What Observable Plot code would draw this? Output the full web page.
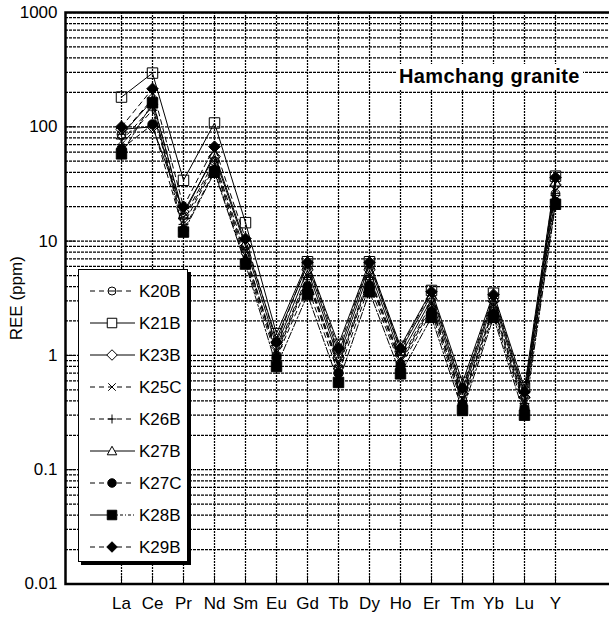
<!DOCTYPE html>
<html><head><meta charset="utf-8">
<script src="https://cdn.jsdelivr.net/npm/d3@7"></script>
<script src="https://cdn.jsdelivr.net/npm/@observablehq/plot@0.6"></script>
<style>
html,body{margin:0;padding:0;background:#fff;overflow:hidden}
#wrap{position:relative;width:609px;height:624px;font-family:"Liberation Sans",Arial,sans-serif}
#title{position:absolute;left:396px;top:64px;background:#fff;font-weight:bold;font-size:20px;letter-spacing:0.4px;padding:0 3px;line-height:25px;white-space:nowrap}
#legend{position:absolute;left:78px;top:269px;width:108px;height:291px;border:1px solid #000;background:#fff;box-shadow:3px 3px 0 #000}
#legend svg{position:absolute;left:0;top:0}
</style></head>
<body><div id="wrap"></div>
<script>
// ---- data ----
const elements = ["La","Ce","Pr","Nd","Sm","Eu","Gd","Tb","Dy","Ho","Er","Tm","Yb","Lu","Y"];
const yTicks = [0.01, 0.1, 1, 10, 100, 1000];
const yTickLabels = ["0.01", "0.1", "1", "10", "100", "1000"];

const K20B = [86, 175, 16, 50, 8.0, 1.0, 4.6, 0.78, 4.6, 0.85, 2.6, 0.40, 2.5, 0.36, 26];
const K21B = [182, 295, 34, 108, 14.5, 1.55, 6.6, 1.25, 6.6, 1.2, 3.7, 0.58, 3.5, 0.52, 37];
const K23B = [95, 100, 18, 55, 9.0, 1.2, 5.6, 0.95, 5.6, 1.0, 3.1, 0.46, 3.0, 0.43, 31];
const K25C = [75, 150, 15, 47, 7.5, 1.1, 5.0, 0.85, 5.0, 0.92, 2.85, 0.42, 2.7, 0.40, 28];
const K26B = [70, 140, 14, 45, 7.0, 1.05, 4.8, 0.82, 4.8, 0.88, 2.7, 0.40, 2.6, 0.38, 25];
const K27B = [85, 170, 17, 58, 9.5, 1.4, 6.2, 1.05, 6.2, 1.1, 3.4, 0.50, 3.2, 0.46, 33];
const K27C = [64, 105, 12.5, 41, 6.6, 0.95, 4.0, 0.70, 4.1, 0.80, 2.4, 0.37, 2.3, 0.34, 22];
const K28B = [58, 162, 12, 40, 6.3, 0.80, 3.4, 0.58, 3.6, 0.69, 2.15, 0.33, 2.15, 0.30, 21];
const K29B = [100, 215, 20, 67, 10.5, 1.3, 6.5, 1.15, 6.5, 1.15, 3.6, 0.52, 3.4, 0.48, 36];

const sampleNames = ["K20B","K21B","K23B","K25C","K26B","K27B","K27C","K28B","K29B"];
const sampleValues = [K20B, K21B, K23B, K25C, K26B, K27B, K27C, K28B, K29B];
const sampleDash = ["5,4", null, null, "5,4", "5,4", null, "5,4", "7,2,2,2", "5,4"];
const sampleMarker = ["circleBar","square","diamond","times","plus","triangle","circle","square","diamond"];
const sampleFilled = [false, false, false, false, false, false, true, true, true];

// ---- symbols ----
const R = s => Math.sqrt(s / Math.PI);
const symbols = {
  circleBar: {draw(c, s){const r = R(s)*0.8; c.moveTo(r,0); c.arc(0,0,r,0,2*Math.PI); c.moveTo(-r,0); c.lineTo(r,0);}},
  circle: {draw(c, s){const r = R(s)*0.85; c.moveTo(r,0); c.arc(0,0,r,0,2*Math.PI); c.closePath();}},
  square: {draw(c, s){const r = R(s)*0.95; c.rect(-r,-r,2*r,2*r);}},
  diamond: {draw(c, s){const r = R(s)*1.05; c.moveTo(0,-r); c.lineTo(r,0); c.lineTo(0,r); c.lineTo(-r,0); c.closePath();}},
  times: {draw(c, s){const r = R(s)*0.75; c.moveTo(-r,-r); c.lineTo(r,r); c.moveTo(r,-r); c.lineTo(-r,r);}},
  plus: {draw(c, s){const r = R(s)*0.9; c.moveTo(-r,0); c.lineTo(r,0); c.moveTo(0,-r); c.lineTo(0,r);}},
  triangle: {draw(c, s){const r = R(s)*0.95; c.moveTo(0,-r); c.lineTo(r,r*0.8); c.lineTo(-r,r*0.8); c.closePath();}}
};

const rows = sampleNames.map((name, i) => elements.map((el, j) => ({sample: name, el, v: sampleValues[i][j]})));
const gridY = d3.scaleLog().domain([0.01, 1000]).ticks();

const marks = [
  Plot.ruleY(gridY, {stroke: "#000", strokeWidth: 1.25, strokeDasharray: "3,1"}),
  Plot.ruleX(elements, {stroke: "#000", strokeWidth: 1.25, strokeDasharray: "2,1"}),
  Plot.axisY(yTicks, {tickSize: -10, tickPadding: 18, tickFormat: (d) => yTickLabels[yTicks.indexOf(d)],
    fontSize: 17, label: "REE (ppm)", labelAnchor: "center", labelOffset: 56, labelArrow: "none"}),
  Plot.axisX(elements, {tickSize: -8, tickPadding: 21, fontSize: 17, label: null})
];
rows.forEach((data, i) => {
  marks.push(Plot.line(data, {x: "el", y: "v", stroke: "black", strokeWidth: 1, strokeDasharray: sampleDash[i]}));
});
rows.forEach((data, i) => {
  marks.push(Plot.dot(data, {x: "el", y: "v", r: 5.5, symbol: symbols[sampleMarker[i]],
    stroke: "black", strokeWidth: 1, fill: sampleFilled[i] ? "black" : "none"}));
});
marks.push(Plot.frame({stroke: "black", strokeWidth: 2.5, insetRight: -6}));

const chart = Plot.plot({
  width: 609, height: 624,
  marginTop: 12, marginBottom: 40.5, marginLeft: 65, marginRight: 0,
  style: {fontFamily: "'Liberation Sans', Arial, sans-serif", fontSize: "17px", color: "black", background: "white"},
  x: {type: "point", domain: elements, range: [99, 577], axis: null},
  y: {type: "log", domain: [0.01, 1000], axis: null},
  marks
});
const wrap = document.getElementById("wrap");
wrap.appendChild(chart);

// title
const title = document.createElement("div");
title.id = "title"; title.textContent = "Hamchang granite";
wrap.appendChild(title);

// legend
const legend = d3.select(wrap).append("div").attr("id", "legend");
const lsvg = legend.append("svg").attr("width", 108).attr("height", 291)
  .style("font-family", "'Liberation Sans', Arial, sans-serif");
sampleNames.forEach((name, i) => {
  const y = 21 + i * 32;
  const g = lsvg.append("g").attr("transform", `translate(0,${y})`);
  if (name === "K28B") {
    g.append("line").attr("x1", 11).attr("x2", 33).attr("y1", 0).attr("y2", 0).attr("stroke", "black");
    g.append("line").attr("x1", 33).attr("x2", 56).attr("y1", 0).attr("y2", 0).attr("stroke", "black").attr("stroke-dasharray", "3,2,1,2");
  } else {
    g.append("line").attr("x1", 11).attr("x2", 56).attr("y1", 0).attr("y2", 0).attr("stroke", "black")
      .attr("stroke-dasharray", sampleDash[i]);
  }
  g.append("path").attr("transform", "translate(33,0)")
    .attr("d", d3.symbol().type(symbols[sampleMarker[i]]).size(Math.PI * 5 * 5)())
    .attr("stroke", "black").attr("fill", sampleFilled[i] ? "black" : "white");
  g.append("text").attr("x", 60).attr("y", 0).attr("dy", "0.35em").attr("font-size", 17).text(name);
});
</script>
</body></html>
